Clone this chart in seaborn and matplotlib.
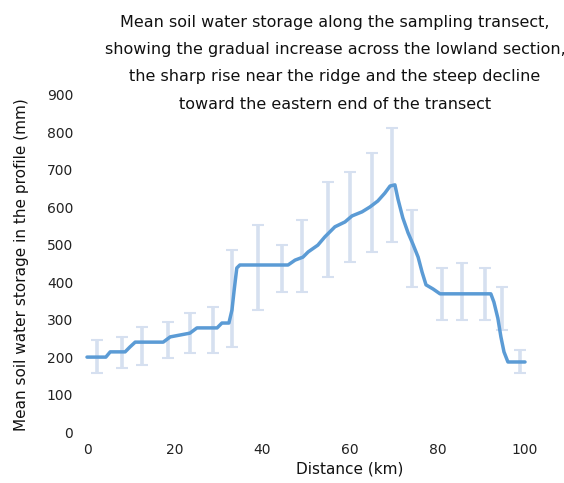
import numpy as np
import pandas as pd
import matplotlib
matplotlib.use("Agg")
import matplotlib.pyplot as plt
import seaborn as sns

# Mean profile along the transect
distance_km = [0, 4.3, 5.3, 8.7, 9.8, 11.0, 17.4, 19.0, 23.5, 25.1, 29.7, 30.8,
               32.4, 33.1, 33.6, 34.2, 34.9, 40.6, 45.9, 47.5, 49.3, 50.5,
               52.7, 54.3, 56.6, 58.9, 60.5, 62.8, 64.6, 66.4, 68.0, 69.2,
               70.3, 71.0, 72.1, 73.3, 74.4, 75.6, 76.5, 77.4, 79.0, 80.6,
               92.2, 92.9, 93.8, 94.5, 95.2, 96.1, 100.0]
water_mm = [200, 200, 214, 214, 227, 240, 240, 254, 264, 278, 278, 291,
            291, 326, 379, 438, 446, 446, 446, 459, 467, 481,
            499, 521, 548, 561, 577, 588, 601, 617, 638, 657,
            660, 622, 572, 532, 502, 467, 427, 393, 382, 369,
            369, 347, 304, 254, 214, 187, 187]

# Spread (mean ± SD) at the sampling stations
station_km = [2.3, 8.0, 12.6, 18.5, 23.5, 28.8, 33.1, 39.0, 44.5, 49.1,
              55.0, 60.0, 65.1, 69.6, 74.2, 81.1, 85.6, 90.9, 94.7, 98.9]
spread_low = [158, 171, 179, 198, 211, 211, 227, 326, 374, 374,
              414, 454, 481, 507, 387, 299, 299, 299, 272, 158]
spread_high = [246, 254, 280, 294, 318, 334, 486, 553, 499, 566,
               668, 694, 745, 812, 593, 438, 451, 438, 387, 219]

x_ticks = [0, 20, 40, 60, 80, 100]
y_ticks = [0, 100, 200, 300, 400, 500, 600, 700, 800, 900]

title_lines = [
    "Mean soil water storage along the sampling transect,",
    "showing the gradual increase across the lowland section,",
    "the sharp rise near the ridge and the steep decline",
    "toward the eastern end of the transect",
]

sns.set_theme(style="white")
plt.rcParams["font.family"] = ["DejaVu Sans"]

fig = plt.figure(figsize=(5.64, 4.83), dpi=100)
ax = fig.add_axes([87 / 564, 1 - 432 / 483, (525 - 87) / 564, (432 - 95) / 483])

line_color = "#5b9bd5"
bar_color = "#d6e0f0"

lo = np.array(spread_low, dtype=float)
hi = np.array(spread_high, dtype=float)
mid = (lo + hi) / 2
ax.errorbar(station_km, mid, yerr=[mid - lo, hi - mid], fmt="none",
            ecolor=bar_color, elinewidth=2.6, capsize=4, capthick=1.5,
            zorder=1, clip_on=False)

df = pd.DataFrame({"distance": distance_km, "water": water_mm})
sns.lineplot(data=df, x="distance", y="water", ax=ax, color=line_color,
             linewidth=2.5, sort=False, zorder=3, clip_on=False)

ax.set_xlim(0, 100)
ax.set_ylim(0, 900)
ax.set_xticks(x_ticks)
ax.set_yticks(y_ticks)
ax.tick_params(axis="both", length=0, labelsize=10, colors="#222222")
ax.tick_params(axis="x", pad=8)
ax.tick_params(axis="y", pad=10)
for s in ax.spines.values():
    s.set_visible(False)
ax.grid(False)

ax.set_xlabel("")
ax.set_ylabel("")
fig.text(350 / 564, 1 - 469 / 483, "Distance (km)", ha="center", va="center",
         fontsize=11, color="#111111")
fig.text(22 / 564, 1 - 265 / 483, "Mean soil water storage in the profile (mm)",
         rotation=90, ha="center", va="center", fontsize=11, color="#111111")

for i, t in enumerate(title_lines):
    fig.text(335 / 564, 1 - (22 + 27.5 * i) / 483, t, ha="center", va="center",
             fontsize=11.5, color="#111111")

fig.savefig("out.png", dpi=100)
